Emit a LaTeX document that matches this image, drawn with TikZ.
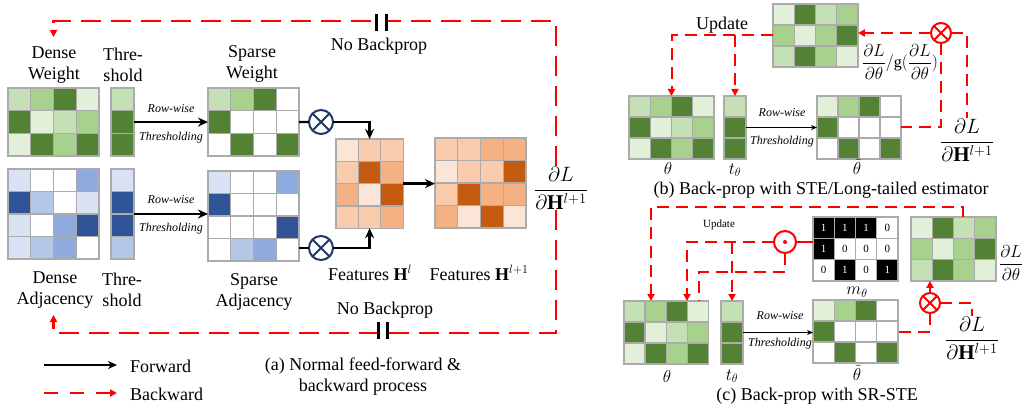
\documentclass[tikz,border=0pt]{standalone}
\usepackage{fontspec}
\setmainfont{Liberation Serif}
\usepackage{amsmath}
\usetikzlibrary{arrows.meta,calc}
\definecolor{gV}{HTML}{E2EFD9}
\definecolor{gL}{HTML}{C5E0B4}
\definecolor{gM}{HTML}{A9D18E}
\definecolor{gD}{HTML}{548235}
\definecolor{bV}{HTML}{DAE3F3}
\definecolor{bL}{HTML}{B4C7E7}
\definecolor{bM}{HTML}{8FAADC}
\definecolor{bD}{HTML}{2F5597}
\definecolor{oV}{HTML}{FBE5D6}
\definecolor{oL}{HTML}{F8CBAD}
\definecolor{oM}{HTML}{F4B183}
\definecolor{oD}{HTML}{C55A11}
\definecolor{W}{HTML}{FFFFFF}
\definecolor{gridc}{HTML}{ABABAB}
\definecolor{navy}{HTML}{1F3864}
\definecolor{myred}{HTML}{FF0000}
\newcommand\cellmat[8]{%
  \foreach \rw [count=\ii] in {#8} {
    \foreach \cl [count=\jj] in \rw {
      \filldraw[fill=\cl, draw=gridc, line width=1.3pt] ({#2+(\jj-1)*#4},{#3+(\ii-1)*#5}) rectangle ++(#4,#5);
    }
  }
  \node[inner sep=0pt, outer sep=0pt, minimum width={#6*#4*1pt}, minimum height={#7*#5*1pt}] (#1) at ({#2+#6*#4/2},{#3+#7*#5/2}) {};
}
\tikzset{
  lbl/.style={font=\fontsize{18}{21}\selectfont, align=center, inner sep=0pt},
  mth/.style={font=\fontsize{18}{21}\selectfont, inner sep=0pt},
  bigfrac/.style={font=\fontsize{21}{24}\selectfont, inner sep=0pt},
  small/.style={font=\fontsize{12}{14}\selectfont\itshape, inner sep=0pt},
  fwd/.style={line width=2.4pt, -{Stealth[length=10pt,width=9pt]}},
  fwdthin/.style={line width=1.1pt, -{Stealth[length=6pt,width=5pt]}},
  bwd/.style={draw=myred, line width=2.5pt, dash pattern=on 20pt off 10pt},
  bwdthin/.style={draw=myred, line width=2pt, dash pattern=on 12pt off 7pt},
  rtip/.style={-{Triangle[length=7pt,width=7pt]}},
  otn/.style={circle, draw=navy, line width=2pt, minimum size=24pt, inner sep=0pt, outer sep=0pt, fill=white},
  otr/.style={circle, draw=myred, line width=2pt, minimum size=20pt, inner sep=0pt, outer sep=0pt, fill=white},
}
\begin{document}
\begin{tikzpicture}[x=1pt,y=-1pt]
\useasboundingbox[fill=white] (0,0) rectangle (1022,406);

% ================= panel (a) =================
\cellmat{dw}{8}{88}{22.75}{22.7}{4}{3}{{gL,gM,gD,gV},{gD,gV,gL,gM},{gV,gD,gM,gD}}
\cellmat{tw}{111}{88}{23}{22.7}{1}{3}{{gL},{gD},{gD}}
\cellmat{sw}{208}{88}{22.75}{22.7}{4}{3}{{gL,gM,gD,W},{gD,W,W,W},{W,gD,W,gD}}
\cellmat{da}{8}{169}{22.75}{22.5}{4}{4}{{bV,W,W,bM},{bD,bL,W,bV},{bV,W,bM,bD},{bV,bL,bM,W}}
\cellmat{ta}{111}{169}{23}{22.5}{1}{4}{{bV},{bD},{bD},{bL}}
\cellmat{sa}{208}{171}{22.75}{22.5}{4}{4}{{bV,W,W,bM},{bD,W,W,W},{W,W,W,bD},{W,bL,bM,W}}
\cellmat{hl}{336}{139}{22.4}{22.3}{3}{4}{{oV,oL,oL},{oL,oD,oM},{oM,oV,oD},{oL,oL,oM}}
\cellmat{hn}{435}{138}{22.75}{22.5}{4}{4}{{oL,oL,oM,oM},{oV,oL,oL,oD},{oL,oD,oM,oM},{oM,oV,oD,oV}}

\node[lbl] (ldw) at (54,65) {Dense\\Weight};
\node[lbl] (ltw) at (123,65) {Thre-\\shold};
\node[lbl] (lsw) at (252,64) {Sparse\\Weight};
\node[lbl] (lda) at (55,290) {Dense\\Adjacency};
\node[lbl] (lta) at (122,290) {Thre-\\shold};
\node[lbl] (lsa) at (254,292) {Sparse\\Adjacency};
\node[lbl, anchor=base] (lhl) at (370,280) {Features $\mathbf{H}^{l}$};
\node[lbl, anchor=base] (lhn) at (479,280) {Features $\mathbf{H}^{l+1}$};

\draw[fwd] (tw.east) -- (sw.west);
\node[small] (rw1) at (171,109) {Row-wise};
\node[small] (th1) at (171,138) {Thresholding};
\draw[fwd] (ta.east) -- (ta.east -| sa.west);
\node[small] (rw2) at (171,200) {Row-wise};
\node[small] (th2) at (171,229) {Thresholding};

\node[otn] (ot1) at (321,122) {};
\draw[navy, line width=2pt] (ot1.north west) -- (ot1.south east) (ot1.north east) -- (ot1.south west);
\node[otn] (ot2) at (321,248) {};
\draw[navy, line width=2pt] (ot2.north west) -- (ot2.south east) (ot2.north east) -- (ot2.south west);
\draw[line width=2.4pt] (sw.east) -- (ot1.west);
\draw[fwd] (ot1.east) -| (hl.north);
\draw[line width=2.4pt] (ot2.west -| sa.east) -- (ot2.west);
\draw[fwd] (ot2.east) -| (hl.south);
\draw[fwd] (hl.east) -- (hl.east -| hn.west);

% gradient label and backward loop
\node[bigfrac] (dla) at (561,188) {$\dfrac{\partial L}{\partial \mathbf{H}^{l+1}}$};
\coordinate (tr) at (556,21);
\coordinate (br) at (556,333);
\coordinate (atop) at (53.5,37);
\coordinate (abot) at (53.5,315);
\draw[bwd, rtip] (dla.north -| tr) -- (tr) -- (tr -| atop) -- (atop);
\draw[bwd, rtip] (dla.south -| br) -- (br) -- (br -| abot) -- (abot);
% no-backprop breaks
\fill[white] (377.5,14) rectangle (384.5,30);
\draw[line width=3pt] (376,14) -- (376,31) (386,14) -- (386,31);
\node[lbl] (nb1) at (379,46) {No Backprop};
\fill[white] (379.5,322) rectangle (385.5,339);
\draw[line width=3pt] (378,322) -- (378,339) (387,322) -- (387,339);
\node[lbl] (nb2) at (385,310) {No Backprop};

% legend
\coordinate (lf1) at (44,365); \coordinate (lf2) at (117,365);
\draw[line width=2pt, -{Stealth[length=9pt,width=8pt]}] (lf1) -- (lf2);
\node[lbl, anchor=base west] (lfw) at (130,372) {Forward};
\coordinate (lb1) at (44,393); \coordinate (lb2) at (117,393);
\draw[draw=myred, line width=2.5pt, dash pattern=on 14pt off 12pt, rtip] (lb1) -- (lb2);
\node[lbl, anchor=base west] (lbw) at (130,400) {Backward};
\node[lbl] (capa) at (363,377) {(a) Normal feed-forward \&\\backward process};

% ================= panel (b) =================
\cellmat{gb}{773}{4}{21.25}{21}{4}{3}{{gV,gD,gL,gM},{gM,gV,gM,gD},{gL,gD,gM,gV}}
\cellmat{thb}{629}{96}{21.25}{21}{4}{3}{{gL,gM,gD,gV},{gD,gV,gL,gM},{gV,gD,gM,gD}}
\cellmat{tb}{724}{96}{22}{21}{1}{3}{{gL},{gD},{gD}}
\cellmat{stb}{817}{96}{21}{21}{4}{3}{{gV,gM,gD,W},{gD,W,W,W},{W,gD,W,gD}}
\draw[fwdthin] (tb.east) -- (stb.west);
\node[small] (rw3) at (782,113) {Row-wise};
\node[small] (th3) at (782,142) {Thresholding};
\node[lbl] (upb) at (722,25) {Update};
\draw[bwdthin, rtip] (gb.west) -| (thb.north);
\draw[bwdthin, rtip] (gb.west -| tb.north) -- (tb.north);
\node[otr] (otb) at (941,33) {};
\draw[myred, line width=2pt] (otb.north west) -- (otb.south east) (otb.north east) -- (otb.south west);
\draw[bwdthin, rtip] (otb.west) -- (otb.west -| gb.east);
\node[bigfrac] (dlb) at (967,140) {$\dfrac{\partial L}{\partial \mathbf{H}^{l+1}}$};
\draw[bwdthin] (otb.east) -| (dlb.north);
\draw[bwdthin] (otb.south) |- (stb.east);
\node[inner sep=0pt, font=\fontsize{16}{19}\selectfont] (gfr) at (900,62) {$\dfrac{\partial L}{\partial\theta}/\mathrm{g}(\dfrac{\partial L}{\partial\theta})$};
\node[mth] (lthb) at (668,169) {$\theta$};
\node[mth] (ltb) at (735,170) {$t_\theta$};
\node[mth] (lstb) at (857,167) {$\tilde{\theta}$};
\node[lbl, anchor=base] (capb) at (821,194) {(b) Back-prop with STE/Long-tailed estimator};

% ================= panel (c) =================
\cellmat{gc}{911}{217}{21.25}{21.3}{4}{3}{{gV,gD,gL,gM},{gM,gV,gM,gD},{gL,gD,gM,gV}}
\foreach \rw [count=\ii] in {{1,1,1,0},{1,0,0,0},{0,1,0,1}} {
  \foreach \v [count=\jj] in \rw {
    \ifnum\v=1 \def\fc{black}\def\tc{white}\else\def\fc{white}\def\tc{black}\fi
    \filldraw[fill=\fc, draw=gridc, line width=1.3pt] ({813+(\jj-1)*21.25},{217+(\ii-1)*21.3}) rectangle ++(21.25,21.3);
    \node[text=\tc, inner sep=0pt, font=\fontsize{11}{12}\selectfont] (m\ii\jj) at ({813+(\jj-0.5)*21.25},{217+(\ii-0.5)*21.3}) {\v};
  }
}
\node[inner sep=0pt, outer sep=0pt, minimum width=85pt, minimum height=63.9pt] (mk) at (855.5,248.95) {};
\node[mth] (lmk) at (857,292) {$m_\theta$};
\cellmat{thc}{624}{301}{21.1}{21}{4}{3}{{gL,gM,gD,gV},{gD,gV,gL,gM},{gV,gD,gM,gD}}
\cellmat{tc}{721}{301}{22}{21}{1}{3}{{gL},{gD},{gD}}
\cellmat{stc}{813}{300}{21.25}{21}{4}{3}{{gV,gM,gD,W},{gD,W,W,W},{W,gD,W,gD}}
\draw[fwdthin] (tc.east) -- (tc.east -| stc.west);
\node[small] (rw4) at (780,316) {Row-wise};
\node[small] (th4) at (780,344) {Thresholding};

\coordinate (c1) at (963,207);
\coordinate (c2) at (651,207);
\draw[bwdthin, rtip] (gc.north -| c1) -- (c1) -- (c2) -- (c2 |- thc.north);
\node[inner sep=0pt, font=\fontsize{11}{13}\selectfont] (upc) at (719,225) {Update};

\node[otr, minimum size=22pt] (od) at (785,242) {};
\fill[myred] (od.center) circle (2pt);
\draw[myred, line width=2pt] (od.east) -- (od.east -| mk.west);
\coordinate (c4) at (687,242);
\draw[bwdthin, rtip] (od.west) -- (c4) -- (c4 |- thc.north);
\draw[bwdthin, rtip] (od.west -| tc.north) -- (tc.north);
\coordinate (c5) at (785,272);
\coordinate (c6) at (699,272);
\draw[bwdthin] (od.south) -- (c5) -- (c6) -- (c6 |- thc.north);

\node[otr] (otc) at (930,303) {};
\draw[myred, line width=2pt] (otc.north west) -- (otc.south east) (otc.north east) -- (otc.south west);
\draw[bwdthin, rtip] (otc.north) -- (otc.north |- gc.south);
\draw[bwdthin] (otc.south) |- (stc.east);
\node[bigfrac] (dlc) at (972,338) {$\dfrac{\partial L}{\partial \mathbf{H}^{l+1}}$};
\draw[bwdthin] (otc.east) -| (dlc.north);
\node[inner sep=0pt, font=\fontsize{19}{22}\selectfont] (dltc) at (1011,263) {$\dfrac{\partial L}{\partial \theta}$};

\node[mth] (lthc) at (667,376) {$\theta$};
\node[mth] (ltc) at (732,376) {$t_\theta$};
\node[mth] (lstc) at (857,373) {$\tilde{\theta}$};
\node[lbl, anchor=base] (capc) at (817,400) {(c) Back-prop with SR-STE};
\end{tikzpicture}
\end{document}
